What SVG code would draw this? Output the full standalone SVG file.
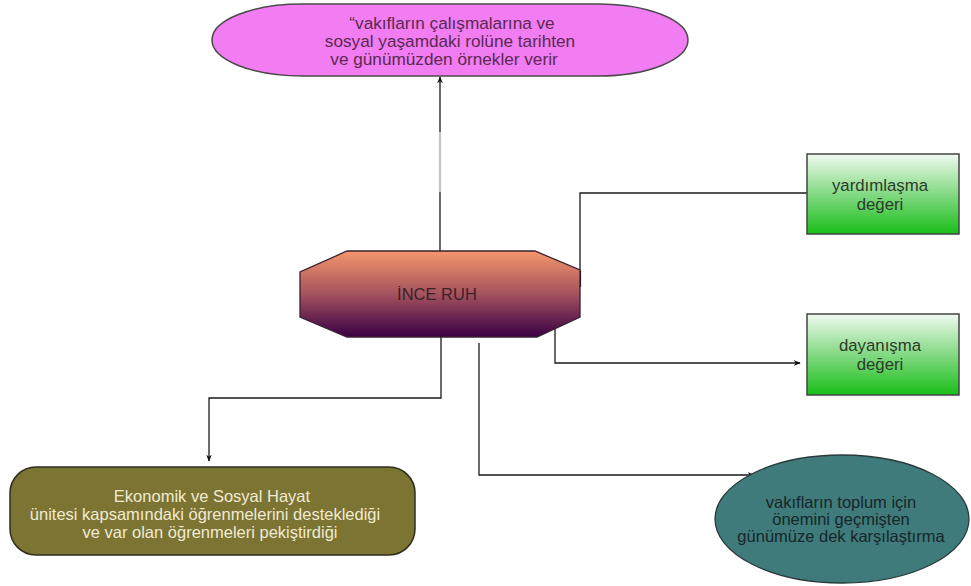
<svg xmlns="http://www.w3.org/2000/svg" width="971" height="586" viewBox="0 0 971 586">
  <defs>
    <linearGradient id="octFill" x1="0" y1="0" x2="0" y2="1">
      <stop offset="0" stop-color="#F5966C"/>
      <stop offset="0.5" stop-color="#A4525E"/>
      <stop offset="1" stop-color="#3A0044"/>
    </linearGradient>
    <linearGradient id="greenFill" x1="0" y1="0" x2="0" y2="1">
      <stop offset="0" stop-color="#F0FAF0"/>
      <stop offset="0.45" stop-color="#8EDC8E"/>
      <stop offset="1" stop-color="#19BE19"/>
    </linearGradient>
    <marker id="arrow" viewBox="0 0 10 10" refX="9" refY="5" markerWidth="7" markerHeight="7" orient="auto" markerUnits="userSpaceOnUse">
      <path d="M0,1 L10,5 L0,9 L3,5 Z" fill="#111"/>
    </marker>
    <style>
      text { font-family: "Liberation Sans", Arial, sans-serif; font-size: 16.5px; text-anchor: middle; }
      .conn { fill: none; stroke: #1a1a1a; stroke-width: 1.3; }
      .pink-text { fill: #5a2a50; font-size: 17.2px; }
      .green-text { fill: #2c3b2c; font-size: 16.8px; }
      .green-box { fill: url(#greenFill); stroke: #444; stroke-width: 1.5; }
    </style>
  </defs>

  <rect width="971" height="586" fill="#ffffff"/>

  <!-- connectors -->
  <g id="connectors">
    <path class="conn" d="M440,251 V77" marker-end="url(#arrow)"/>
    <path d="M440,132 V192" stroke="#c4c4c4" stroke-width="2.2"/>
    <path class="conn" d="M580,286 V193 H818" marker-end="url(#arrow)"/>
    <path d="M580,271 V287" stroke="#111" stroke-width="2.2"/>
    <path class="conn" d="M555,328 V363 H800" marker-end="url(#arrow)"/>
    <path class="conn" d="M441,337 V398 H209 V461" marker-end="url(#arrow)"/>
    <path class="conn" d="M479,343 V475 H754" marker-end="url(#arrow)"/>
  </g>

  <!-- top terminator -->
  <g id="node-ornekler">
    <rect x="212" y="4" width="476" height="72" rx="90" ry="36" fill="#F27CF2" stroke="#4a4a4a" stroke-width="1.5"/>
    <text class="pink-text" x="452" y="29">“vakıfların çalışmalarına ve</text>
    <text class="pink-text" x="450" y="47">sosyal yaşamdaki rolüne tarihten</text>
    <text class="pink-text" x="444" y="65">ve günümüzden örnekler verir</text>
  </g>

  <!-- central octagon -->
  <g id="node-ince-ruh">
    <polygon points="347,251 535,251 580,270 580,317 537,337 347,337 300,317 300,272" fill="url(#octFill)" stroke="#3a2030" stroke-width="1.3"/>
    <text x="437" y="300" fill="#3a2228">İNCE RUH</text>
  </g>

  <!-- value boxes -->
  <g id="node-yardimlasma">
    <rect class="green-box" x="807" y="154" width="152" height="80"/>
    <text class="green-text" x="880" y="191">yardımlaşma</text>
    <text class="green-text" x="880" y="210">değeri</text>
  </g>

  <g id="node-dayanisma">
    <rect class="green-box" x="807" y="314" width="152" height="81"/>
    <text class="green-text" x="880" y="351">dayanışma</text>
    <text class="green-text" x="880" y="370">değeri</text>
  </g>

  <!-- olive rounded box -->
  <g id="node-ekonomik">
    <rect x="10" y="467" width="405" height="88" rx="26" ry="26" fill="#7B7433" stroke="#2e2e1e" stroke-width="1.5"/>
    <text x="212" y="502" fill="#F1EAD2">Ekonomik ve Sosyal Hayat</text>
    <text x="205" y="520" fill="#F1EAD2">ünitesi kapsamındaki öğrenmelerini desteklediği</text>
    <text x="210" y="538" fill="#F1EAD2">ve var olan öğrenmeleri pekiştirdiği</text>
  </g>

  <!-- teal ellipse -->
  <g id="node-karsilastirma">
    <ellipse cx="842" cy="519" rx="127" ry="64" fill="#3E7B7A" stroke="#2a3a3a" stroke-width="1.3"/>
    <text x="841" y="508" fill="#18262a" font-size="17">vakıfların toplum için</text>
    <text x="841" y="525" fill="#18262a" font-size="17">önemini geçmişten</text>
    <text x="841" y="542" fill="#18262a" font-size="17">günümüze dek karşılaştırma</text>
  </g>
</svg>
